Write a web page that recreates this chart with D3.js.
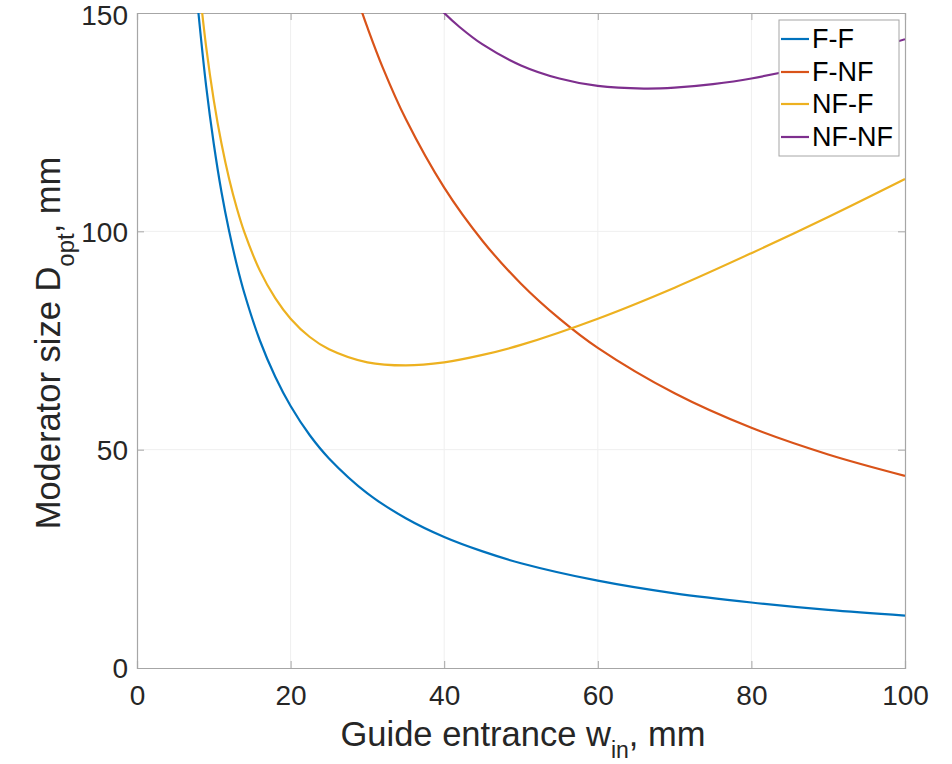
<!DOCTYPE html>
<html><head><meta charset="utf-8">
<script src="https://cdn.jsdelivr.net/npm/d3@7"></script>
<style>body{margin:0;background:#fff;} svg{display:block;font-family:"Liberation Sans",Arial,Helvetica,sans-serif;}</style>
</head><body>
<svg id="chart" width="952" height="764"></svg>
<script>
const seriesNames = ["F-F", "F-NF", "NF-F", "NF-NF"];
const seriesColors = ["#0072BD", "#D95319", "#EDB120", "#7E2F8E"];
const wFF = [8, 9, 10, 11, 12, 13, 14, 16, 18, 20, 22.5, 25, 30, 35, 40, 45, 50, 60, 70, 80, 90, 100];
const dFF = [150, 133.3, 120, 109, 100, 92.3, 85.7, 75, 66.7, 60, 53.3, 48, 40, 34.3, 30, 26.7, 24, 20, 17.1, 15, 13.3, 12];
const wFNF = [28, 29, 30, 32, 35, 40, 45, 50, 55, 60, 70, 80, 90, 100];
const dFNF = [157.1, 151.7, 146.7, 137.5, 125.7, 110, 97.8, 88, 80, 73.3, 62.9, 55, 48.9, 44];
const wNFF = [8, 9, 10, 11, 12, 13, 14, 16, 18, 20, 22.5, 25, 30, 35, 40, 45, 50, 60, 70, 80, 90, 100];
const dNFF = [158, 142.3, 130, 120.1, 112, 105.3, 99.7, 91, 84.7, 80, 75.8, 73, 70, 69.3, 70, 71.7, 74, 80, 87.1, 95, 103.3, 112];
const wNFNF = [38, 40, 42, 45, 50, 55, 60, 66, 70, 75, 80, 90, 100];
const dNFNF = [153.8, 150, 146.8, 142.8, 138, 135, 133.3, 132.7, 132.9, 133.7, 135, 138.9, 144];
const xTicks = [0, 20, 40, 60, 80, 100];
const yTicks = [0, 50, 100, 150];

const series = [
  {name: seriesNames[0], color: seriesColors[0], pts: wFF.map((w,i)=>[w,dFF[i]])},
  {name: seriesNames[1], color: seriesColors[1], pts: wFNF.map((w,i)=>[w,dFNF[i]])},
  {name: seriesNames[2], color: seriesColors[2], pts: wNFF.map((w,i)=>[w,dNFF[i]])},
  {name: seriesNames[3], color: seriesColors[3], pts: wNFNF.map((w,i)=>[w,dNFNF[i]])}
];

const svg = d3.select("#chart");
const L = 137, R = 905, T = 13, B = 668;
const x = d3.scaleLinear().domain([0,100]).range([L,R]);
const y = d3.scaleLinear().domain([0,150]).range([B,T]);

svg.append("defs").append("clipPath").attr("id","clip")
  .append("rect").attr("x",L).attr("y",T).attr("width",R-L).attr("height",B-T);

// grid
const grid = svg.append("g");
grid.selectAll(".gx").data(xTicks.slice(1,-1)).join("line")
  .attr("x1",d=>x(d)).attr("x2",d=>x(d)).attr("y1",T).attr("y2",B)
  .attr("stroke","#efefef").attr("stroke-width",1);
grid.selectAll(".gy").data(yTicks.slice(1,-1)).join("line")
  .attr("y1",d=>y(d)).attr("y2",d=>y(d)).attr("x1",L).attr("x2",R)
  .attr("stroke","#efefef").attr("stroke-width",1);

// axes
const axColor = "#a6a6a6";
const gx = svg.append("g").attr("transform",`translate(0,${B})`)
  .call(d3.axisBottom(x).tickValues(xTicks).tickSize(-7).tickPadding(17));
const gxt = svg.append("g").attr("transform",`translate(0,${T})`)
  .call(d3.axisTop(x).tickValues(xTicks).tickSize(-7).tickFormat(""));
const gy = svg.append("g").attr("transform",`translate(${L},0)`)
  .call(d3.axisLeft(y).tickValues(yTicks).tickSize(-7).tickPadding(9));
const gyr = svg.append("g").attr("transform",`translate(${R},0)`)
  .call(d3.axisRight(y).tickValues(yTicks).tickSize(-7).tickFormat(""));
[gx,gxt,gy,gyr].forEach(g=>{
  g.select(".domain").attr("stroke",axColor).attr("stroke-width",1.2);
  g.selectAll(".tick line").attr("stroke",axColor);
  g.selectAll(".tick text").attr("fill","#262626").style("font-size","28px")
   .style("font-family","'Liberation Sans',Arial,sans-serif");
});
gy.selectAll(".tick text").attr("dy","0.35em");
gy.selectAll(".tick text").filter(d=>d===150).attr("dy","0.42em");

// lines
const line = d3.line().x(d=>x(d[0])).y(d=>y(d[1])).curve(d3.curveCatmullRom.alpha(0.5));
svg.append("g").attr("clip-path","url(#clip)").selectAll("path").data(series).join("path")
  .attr("d",d=>line(d.pts)).attr("fill","none").attr("stroke",d=>d.color).attr("stroke-width",2.2);

// axis labels
svg.append("text").attr("x",(L+R)/2 + 2).attr("y",746).attr("text-anchor","middle")
  .attr("fill","#262626").style("font-size","34.5px")
  .html('Guide entrance w<tspan dy="12" font-size="23px">in</tspan><tspan dy="-12">, mm</tspan>');
svg.append("text").attr("transform",`translate(60,343) rotate(-90)`).attr("text-anchor","middle")
  .attr("fill","#262626").style("font-size","34.5px")
  .html('Moderator size D<tspan dy="14" font-size="24px">opt</tspan><tspan dy="-14">, mm</tspan>');

// legend
const lg = svg.append("g");
lg.append("rect").attr("x",779).attr("y",20).attr("width",120).attr("height",136)
  .attr("fill","#fff").attr("stroke","#a6a6a6").attr("stroke-width",1);
const rowY = [39, 72, 104, 137];
series.forEach((s,i)=>{
  lg.append("line").attr("x1",781).attr("x2",809).attr("y1",rowY[i]).attr("y2",rowY[i])
    .attr("stroke",s.color).attr("stroke-width",2.2);
  lg.append("text").attr("x",812).attr("y",rowY[i]).attr("dy","0.35em")
    .attr("fill","#000").style("font-size","27px").text(s.name);
});
</script>
</body></html>
